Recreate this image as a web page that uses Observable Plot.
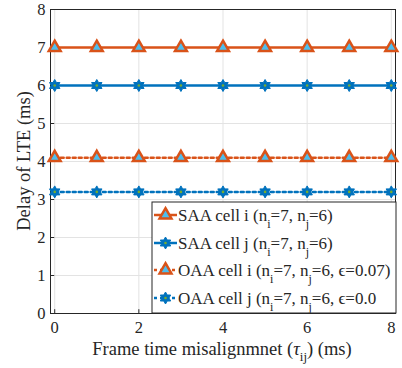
<!DOCTYPE html>
<html><head><meta charset="utf-8">
<script src="https://cdn.jsdelivr.net/npm/d3@7"></script>
<script src="https://cdn.jsdelivr.net/npm/@observablehq/plot@0.6"></script>
<style>
body{margin:0;background:#fff}
svg, svg text, svg g { font-family: 'Liberation Serif' !important; }
</style>
</head><body><div id="chart"></div>
<script>
// ---- data ----
const misalign = [0, 1, 2, 3, 4, 5, 6, 7, 8];
const saaCellI = [7, 7, 7, 7, 7, 7, 7, 7, 7];
const saaCellJ = [6, 6, 6, 6, 6, 6, 6, 6, 6];
const oaaCellI = [4.1, 4.1, 4.1, 4.1, 4.1, 4.1, 4.1, 4.1, 4.1];
const oaaCellJ = [3.2, 3.2, 3.2, 3.2, 3.2, 3.2, 3.2, 3.2, 3.2];
const seriesKeys = ["SAA cell i", "SAA cell j", "OAA cell i", "OAA cell j"];
const xTicks = [0, 2, 4, 6, 8];
const yTicks = [0, 1, 2, 3, 4, 5, 6, 7, 8];

const valuesBySeries = [saaCellI, saaCellJ, oaaCellI, oaaCellJ];
const rows = seriesKeys.flatMap((s, k) => misalign.map((x, i) => ({x, y: valuesBySeries[k][i], s})));

const ORANGE = "#D95319", CYAN = "#4DBEEE", BLUE = "#0072BD", GREEN = "#77AC30";
const FONT = "Liberation Serif";
const INK = "#262626";

const hexagram = {
  draw(ctx, size) {
    const R = Math.sqrt(size / Math.PI), r = R / Math.sqrt(3);
    for (let k = 0; k < 12; k++) {
      const a = (-90 + 30 * k) * Math.PI / 180;
      const rad = k % 2 === 0 ? R : r;
      const px = rad * Math.cos(a), py = rad * Math.sin(a);
      if (k === 0) ctx.moveTo(px, py); else ctx.lineTo(px, py);
    }
    ctx.closePath();
  }
};

const styleOf = {
  "SAA cell i": {stroke: ORANGE, dash: null},
  "SAA cell j": {stroke: BLUE, dash: null},
  "OAA cell i": {stroke: ORANGE, dash: "3,3"},
  "OAA cell j": {stroke: BLUE, dash: "3,3"}
};

const lineMarks = seriesKeys.map(s => Plot.line(rows.filter(d => d.s === s), {
  x: "x", y: "y", stroke: styleOf[s].stroke, strokeWidth: 2.5,
  strokeDasharray: styleOf[s].dash
}));
const triRows = rows.filter(d => d.s.endsWith("cell i"));
const hexRows = rows.filter(d => d.s.endsWith("cell j"));

const chart = Plot.plot({
  width: 402, height: 368,
  marginLeft: 50, marginRight: 7, marginTop: 9, marginBottom: 55,
  style: {fontFamily: FONT, fontSize: "16.5px", color: INK, background: "#fff", overflow: "visible"},
  x: {domain: [-0.1, 8.1]},
  y: {domain: [0, 8]},
  marks: [
    Plot.gridX(xTicks, {stroke: "#e3e3e3", strokeOpacity: 1}),
    Plot.gridY(yTicks, {stroke: "#e3e3e3", strokeOpacity: 1}),
    Plot.ruleX(xTicks, {x: d => d, y1: 0, y2: 0.1, stroke: INK}),
    Plot.ruleY(yTicks, {y: d => d, x1: -0.1, x2: 0.0, stroke: INK}),
    Plot.frame({stroke: INK, strokeWidth: 1}),
    Plot.axisX(xTicks, {tickSize: 0, tickPadding: 8, label: null, fontSize: 16.5, fontFamily: FONT, fill: INK}),
    Plot.axisY(yTicks, {tickSize: 0, tickPadding: 5, label: null, fontSize: 16.5, fontFamily: FONT, fill: INK}),
    ...lineMarks,
    Plot.dot(triRows, {x: "x", y: "y", symbol: "triangle", r: 4.4, fill: CYAN, stroke: ORANGE, strokeWidth: 2.5}),
    Plot.dot(hexRows, {x: "x", y: "y", symbol: hexagram, r: 6, fill: BLUE, stroke: BLUE, strokeWidth: 1}),
    Plot.dot(hexRows, {x: "x", y: "y", r: 1.3, fill: GREEN, stroke: null})
  ]
});
document.getElementById("chart").append(chart);

// ---- axis labels with subscripts ----
const svg = d3.select(chart);
const xl = svg.append("text").attr("x", 222).attr("y", 355).attr("text-anchor", "middle")
  .attr("font-size", 18.5).attr("fill", INK);
xl.append("tspan").text("Frame time misalignmnet (");
xl.append("tspan").attr("font-style", "italic").text("τ");
xl.append("tspan").attr("dy", 6).attr("font-size", 13).text("ij");
xl.append("tspan").attr("dy", -6).text(") (ms)");

svg.append("text").attr("transform", "translate(30,161) rotate(-90)").attr("text-anchor", "middle")
  .attr("font-size", 18.5).attr("fill", INK).text("Delay of LTE (ms)");

// ---- legend ----
const lg = svg.append("g");
lg.append("rect").attr("x", 152).attr("y", 202).attr("width", 244).attr("height", 111)
  .attr("fill", "#fff").attr("stroke", INK).attr("stroke-width", 1);
const legendText = [
  [["SAA cell i (n"], ["i", 1], ["=7, n"], ["j", 1], ["=6)"]],
  [["SAA cell j (n"], ["i", 1], ["=7, n"], ["j", 1], ["=6)"]],
  [["OAA cell i (n"], ["i", 1], ["=7, n"], ["j", 1], ["=6, ϵ=0.07)"]],
  [["OAA cell j (n"], ["i", 1], ["=7, n"], ["j", 1], ["=6, ϵ=0.0"]]
];
const ys = [215, 243, 270, 298];
seriesKeys.forEach((s, k) => {
  const y = ys[k];
  lg.append("line").attr("x1", 154).attr("x2", 177).attr("y1", y).attr("y2", y)
    .attr("stroke", styleOf[s].stroke).attr("stroke-width", 2.5)
    .attr("stroke-dasharray", styleOf[s].dash);
  if (s.endsWith("cell i")) {
    lg.append("path").attr("transform", `translate(165.5,${y})`)
      .attr("d", d3.symbol(d3.symbolTriangle, Math.PI * 4.4 * 4.4)())
      .attr("fill", CYAN).attr("stroke", ORANGE).attr("stroke-width", 2.5);
  } else {
    lg.append("path").attr("transform", `translate(165.5,${y})`)
      .attr("d", d3.symbol(hexagram, Math.PI * 36)())
      .attr("fill", BLUE).attr("stroke", BLUE).attr("stroke-width", 1);
    lg.append("circle").attr("cx", 165.5).attr("cy", y).attr("r", 1.3).attr("fill", GREEN);
  }
  const t = lg.append("text").attr("x", 178).attr("y", y + 5.5).attr("text-anchor", "start")
    .attr("font-size", 17).attr("fill", INK);
  let sub = false;
  legendText[k].forEach(([str, isSub]) => {
    const ts = t.append("tspan").text(str);
    if (isSub && !sub) { ts.attr("dy", 7).attr("font-size", 12); sub = true; }
    else if (!isSub && sub) { ts.attr("dy", -7); sub = false; }
  });
});
</script>
</body></html>
